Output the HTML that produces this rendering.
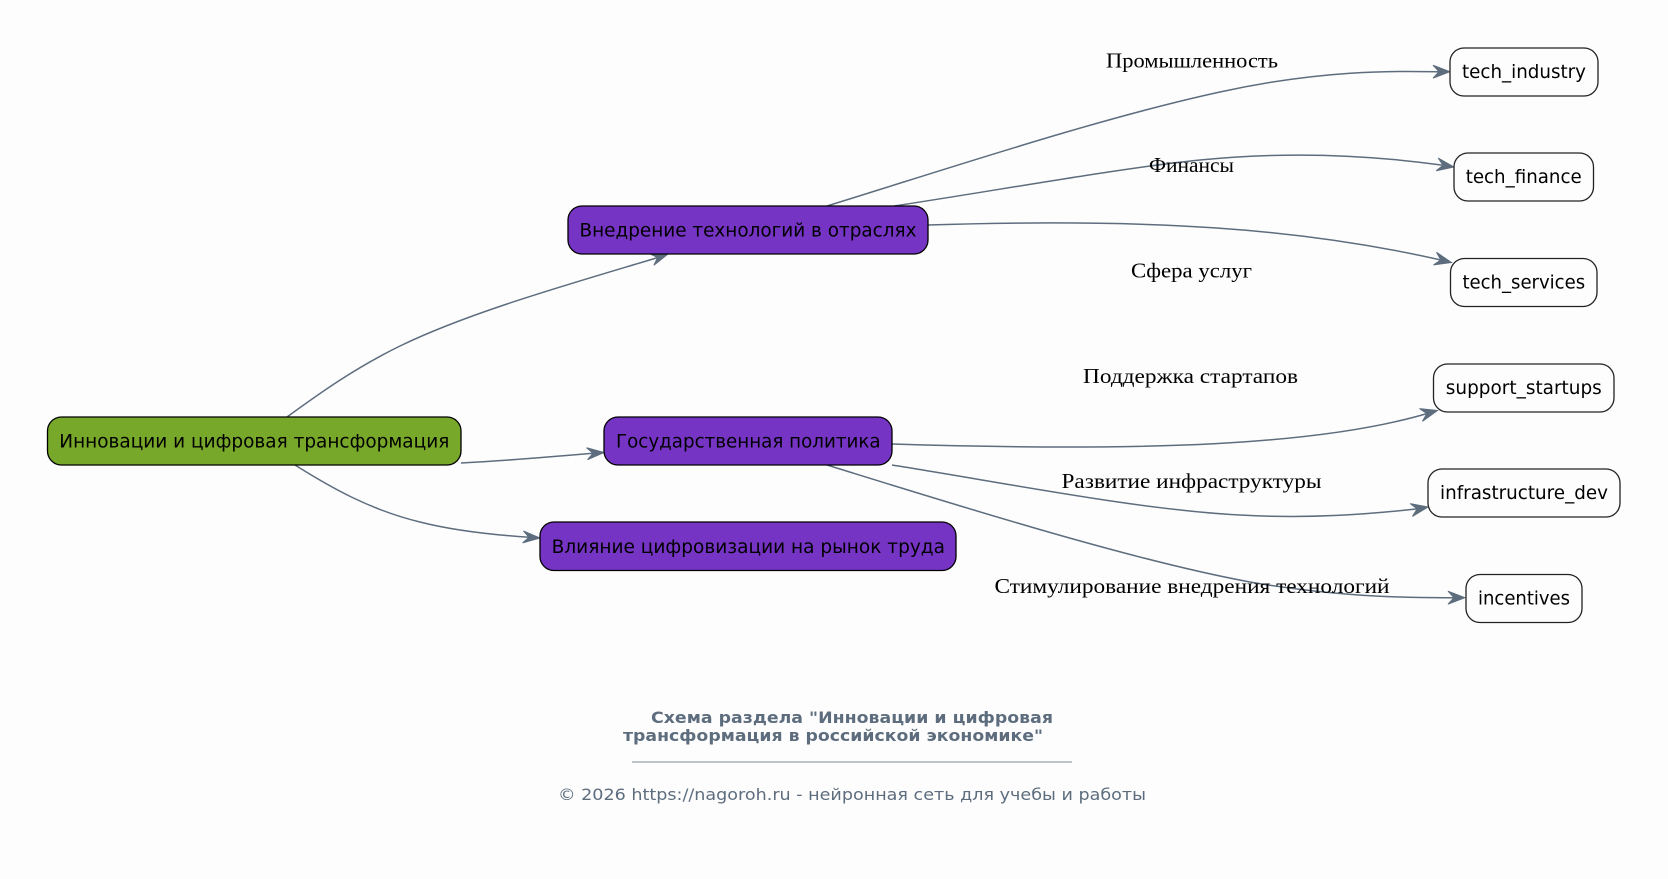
<!DOCTYPE html>
<html>
<head>
<meta charset="utf-8">
<style>
html,body{margin:0;padding:0;background:#fdfdfd;}
svg{display:block;}
.n{font-family:"DejaVu Sans","Liberation Sans",sans-serif;font-size:19px;fill:#000;}
.e{font-family:"Liberation Serif","DejaVu Serif",serif;font-size:21px;fill:#000;}
.t{font-family:"DejaVu Sans","Liberation Sans",sans-serif;fill:#5d6d7e;}
.edge{fill:none;stroke:#5d6d7e;stroke-width:1.5;}
.ah{fill:#5d6d7e;stroke:#5d6d7e;stroke-width:1;stroke-linejoin:miter;}
</style>
</head>
<body>
<svg width="1668" height="879" viewBox="0 0 1668 879" xmlns="http://www.w3.org/2000/svg">
<rect x="0" y="0" width="1668" height="879" fill="#fdfdfd"/>

<!-- edges -->
<path class="edge" d="M287,417 C320,393 355,368 400,346 C470,312 570,284 657.6,257.6"/>
<polygon class="ah" points="668,254 653.9,265.2 657.6,257.6 650,253.9"/>

<path class="edge" d="M461,463 C500,461 550,457 593,453.3"/>
<polygon class="ah" points="604,452.5 587.5,459.7 593,453.3 586.6,447.7"/>

<path class="edge" d="M295,465 C330,487 370,510 420,522 C455,531 495,535 529,537.3"/>
<polygon class="ah" points="540,538 522.6,542.9 529,537.3 523.4,530.9"/>

<path class="edge" d="M827,206 C950,168 1100,118 1220,92 C1320,70 1390,71 1439,71.7"/>
<polygon class="ah" points="1450,71.7 1433,78.2 1439,71.7 1433,65.2"/>

<path class="edge" d="M894,206 C1000,190 1120,168 1200,160 C1290,151 1370,155 1443.1,165.3"/>
<polygon class="ah" points="1454,167 1436.2,170.8 1443.1,165.3 1438.2,158"/>

<path class="edge" d="M928,225 C1150,218 1300,228 1440.8,260"/>
<polygon class="ah" points="1451.5,262.5 1433.5,264.9 1440.8,260 1436.5,252.3"/>

<path class="edge" d="M892,444 C1150,452 1320,445 1426.8,413.6"/>
<polygon class="ah" points="1437.5,410.5 1422.5,421.3 1426.8,413.6 1419.5,408.6"/>

<path class="edge" d="M892,465 C1000,482 1140,510 1240,515 C1310,519 1370,514 1417.2,508.9"/>
<polygon class="ah" points="1428,507 1412.4,516.4 1417.2,508.9 1410.2,503.6"/>

<path class="edge" d="M827,465 C950,503 1130,560 1250,582 C1330,596 1400,598 1454,597.7"/>
<polygon class="ah" points="1465,597.7 1448,604.2 1454,597.7 1448,591.2"/>

<!-- edge labels -->
<text class="e" x="1192" y="67.5" text-anchor="middle" textLength="172" lengthAdjust="spacingAndGlyphs">Промышленность</text>
<text class="e" x="1191.5" y="172" text-anchor="middle" textLength="85" lengthAdjust="spacingAndGlyphs">Финансы</text>
<text class="e" x="1191.5" y="277.5" text-anchor="middle" textLength="121" lengthAdjust="spacingAndGlyphs">Сфера услуг</text>
<text class="e" x="1190.5" y="383" text-anchor="middle" textLength="215" lengthAdjust="spacingAndGlyphs">Поддержка стартапов</text>
<text class="e" x="1191.5" y="488" text-anchor="middle" textLength="260" lengthAdjust="spacingAndGlyphs">Развитие инфраструктуры</text>
<text class="e" x="1192" y="593" text-anchor="middle" textLength="395" lengthAdjust="spacingAndGlyphs">Стимулирование внедрения технологий</text>

<!-- main nodes -->
<rect x="47.5" y="417" width="413.5" height="48" rx="14" ry="14" fill="#77a829" stroke="#000" stroke-width="1.3"/>
<text class="n" x="254.3" y="447.7" text-anchor="middle" textLength="390" lengthAdjust="spacingAndGlyphs">Инновации и цифровая трансформация</text>

<rect x="568" y="206" width="360" height="48" rx="14" ry="14" fill="#7634c5" stroke="#000" stroke-width="1.3"/>
<text class="n" x="748" y="236.7" text-anchor="middle" textLength="337" lengthAdjust="spacingAndGlyphs">Внедрение технологий в отраслях</text>

<rect x="604" y="417" width="288" height="48" rx="14" ry="14" fill="#7634c5" stroke="#000" stroke-width="1.3"/>
<text class="n" x="748.3" y="447.7" text-anchor="middle" textLength="264.7" lengthAdjust="spacingAndGlyphs">Государственная политика</text>

<rect x="540" y="522" width="416" height="48.5" rx="14" ry="14" fill="#7634c5" stroke="#000" stroke-width="1.3"/>
<text class="n" x="748.3" y="552.9" text-anchor="middle" textLength="393.3" lengthAdjust="spacingAndGlyphs">Влияние цифровизации на рынок труда</text>

<!-- leaf nodes -->
<rect x="1450" y="48" width="148" height="48" rx="14" ry="14" fill="#fdfdfd" stroke="#222" stroke-width="1.3"/>
<text class="n" x="1524" y="78" text-anchor="middle" textLength="124" lengthAdjust="spacingAndGlyphs">tech_industry</text>

<rect x="1454" y="153" width="139.5" height="48" rx="14" ry="14" fill="#fdfdfd" stroke="#222" stroke-width="1.3"/>
<text class="n" x="1523.7" y="183" text-anchor="middle" textLength="116" lengthAdjust="spacingAndGlyphs">tech_finance</text>

<rect x="1450.5" y="258.5" width="146.5" height="48" rx="14" ry="14" fill="#fdfdfd" stroke="#222" stroke-width="1.3"/>
<text class="n" x="1523.8" y="288.7" text-anchor="middle" textLength="122.7" lengthAdjust="spacingAndGlyphs">tech_services</text>

<rect x="1433.5" y="364" width="180.5" height="48" rx="14" ry="14" fill="#fdfdfd" stroke="#222" stroke-width="1.3"/>
<text class="n" x="1523.8" y="394.2" text-anchor="middle" textLength="156" lengthAdjust="spacingAndGlyphs">support_startups</text>

<rect x="1428" y="469" width="192" height="48" rx="14" ry="14" fill="#fdfdfd" stroke="#222" stroke-width="1.3"/>
<text class="n" x="1524" y="499.2" text-anchor="middle" textLength="168" lengthAdjust="spacingAndGlyphs">infrastructure_dev</text>

<rect x="1466" y="574.5" width="116" height="48" rx="14" ry="14" fill="#fdfdfd" stroke="#222" stroke-width="1.3"/>
<text class="n" x="1524" y="604.7" text-anchor="middle" textLength="92" lengthAdjust="spacingAndGlyphs">incentives</text>

<!-- title / footer -->
<text class="t" x="651" y="723" font-size="16" font-weight="bold" textLength="402" lengthAdjust="spacingAndGlyphs">Схема раздела "Инновации и цифровая</text>
<text class="t" x="623" y="741" font-size="16" font-weight="bold" textLength="420" lengthAdjust="spacingAndGlyphs">трансформация в российской экономике"</text>
<line x1="632" y1="762" x2="1072" y2="762" stroke="#7d8a97" stroke-width="1"/>
<text class="t" x="558" y="800" font-size="16" textLength="588" lengthAdjust="spacingAndGlyphs">© 2026 https://nagoroh.ru - нейронная сеть для учебы и работы</text>
</svg>
</body>
</html>
